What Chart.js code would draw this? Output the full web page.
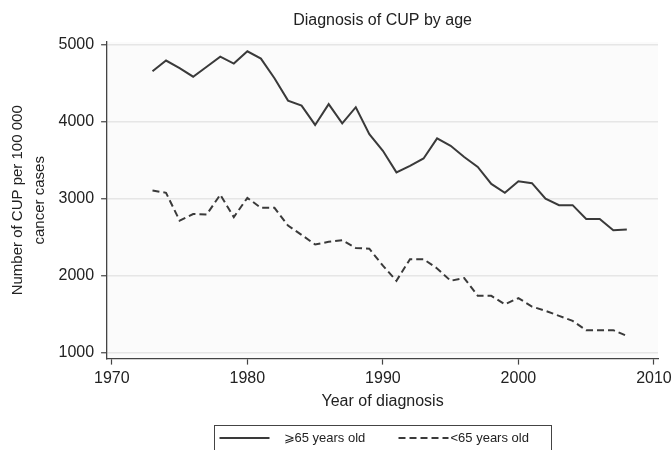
<!DOCTYPE html>
<html>
<head>
<meta charset="utf-8">
<script src="https://cdn.jsdelivr.net/npm/chart.js@4/dist/chart.umd.min.js"></script>
<style>
  html, body { margin: 0; padding: 0; background: #fff; }
  #wrap { width: 672px; height: 450px; position: relative; }
</style>
</head>
<body>
<div id="wrap"><canvas id="chartCup"></canvas></div>
<script>
// years of diagnosis
const years = [1973, 1974, 1975, 1976, 1977, 1978, 1979, 1980, 1981, 1982,
  1983, 1984, 1985, 1986, 1987, 1988, 1989, 1990, 1991, 1992,
  1993, 1994, 1995, 1996, 1997, 1998, 1999, 2000, 2001, 2002,
  2003, 2004, 2005, 2006, 2007, 2008];

// >=65 years old
const olderValues = [4650, 4790, 4690, 4580, 4710, 4840, 4750, 4910, 4815, 4560,
  4270, 4205, 3955, 4225, 3975, 4185, 3835, 3620, 3340, 3425,
  3520, 3780, 3685, 3540, 3410, 3190, 3075, 3225, 3200, 3000,
  2915, 2915, 2735, 2735, 2590, 2600];

// <65 years old
const youngerValues = [3105, 3075, 2715, 2800, 2795, 3050, 2760, 3010, 2880, 2880,
  2650, 2530, 2405, 2440, 2460, 2360, 2350, 2130, 1935, 2215,
  2215, 2095, 1935, 1970, 1740, 1740, 1630, 1710, 1600, 1545,
  1480, 1415, 1295, 1295, 1295, 1220];

const seriesLabels = ['\u2A7E65 years old', '<65 years old'];
const xTicks = [1970, 1980, 1990, 2000, 2010];
const yTicks = [1000, 2000, 3000, 4000, 5000];

const lineColor = '#3a3a3a';
const fontFamily = "'Liberation Sans', Arial, Helvetica, sans-serif";

const toPoints = vals => vals.map((v, i) => ({ x: years[i], y: v }));

// title centred over the plot area, like the original
const titlePlugin = {
  id: 'plotTitle',
  afterDraw(chart) {
    const { ctx, chartArea } = chart;
    ctx.save();
    ctx.font = '16px ' + fontFamily;
    ctx.fillStyle = '#222';
    ctx.textAlign = 'center';
    ctx.textBaseline = 'middle';
    ctx.fillText('Diagnosis of CUP by age', (chartArea.left + chartArea.right) / 2, 21);
    ctx.restore();
  }
};

// boxed legend at the bottom (cut by the image edge)
const legendBoxPlugin = {
  id: 'legendBox',
  afterDraw(chart) {
    const { ctx, chartArea } = chart;
    const sets = chart.data.datasets;
    const cx = (chartArea.left + chartArea.right) / 2;
    const boxW = 337;
    const left = Math.round(cx - boxW / 2) + 0.5;
    const top = 425.5;
    const yMid = 438;
    ctx.save();
    ctx.strokeStyle = '#444';
    ctx.lineWidth = 1;
    ctx.strokeRect(left, top, boxW, 40);

    ctx.font = '13px ' + fontFamily;
    ctx.textBaseline = 'middle';
    ctx.fillStyle = '#222';
    const starts = [left + 5, left + 184];
    const textGap = [64, 52];
    sets.forEach((ds, i) => {
      ctx.strokeStyle = ds.borderColor;
      ctx.lineWidth = ds.borderWidth;
      ctx.setLineDash(ds.borderDash || []);
      ctx.beginPath();
      ctx.moveTo(starts[i], yMid);
      ctx.lineTo(starts[i] + 50, yMid);
      ctx.stroke();
      ctx.fillText(ds.label, starts[i] + textGap[i], yMid);
    });
    ctx.restore();
  }
};

const plotBgPlugin = {
  id: 'plotBg',
  beforeDraw(chart) {
    const { ctx, chartArea } = chart;
    ctx.save();
    ctx.fillStyle = '#fbfbfb';
    ctx.fillRect(chartArea.left, chartArea.top, chartArea.right - chartArea.left, chartArea.bottom - chartArea.top);
    ctx.restore();
  }
};

const configCup = {
  type: 'line',
  data: {
    datasets: [
      {
        label: seriesLabels[0],
        data: toPoints(olderValues),
        borderColor: lineColor,
        borderWidth: 2,
        pointRadius: 0,
        tension: 0,
      },
      {
        label: seriesLabels[1],
        data: toPoints(youngerValues),
        borderColor: lineColor,
        borderWidth: 2,
        borderDash: [7, 4],
        pointRadius: 0,
        tension: 0,
      },
    ],
  },
  options: {
    responsive: false,
    animation: false,
    events: [],
    layout: {
      padding: { top: 42, left: 2, right: 14, bottom: 37 },
    },
    scales: {
      x: {
        type: 'linear',
        min: 1969.65,
        max: 2010.3,
        afterBuildTicks: axis => { axis.ticks = xTicks.map(v => ({ value: v })); },
        // let the last label run into the right margin, as in the original
        afterFit: axis => { axis.paddingRight = 0; },
        ticks: {
          color: '#222',
          padding: 4,
          maxRotation: 0,
          font: { family: fontFamily, size: 16 },
          callback: v => String(v),
        },
        grid: {
          drawOnChartArea: false,
          tickLength: 6,
          tickColor: '#444',
          tickWidth: 1.2,
        },
        border: { color: '#444', width: 1.3 },
        title: {
          display: true,
          text: 'Year of diagnosis',
          color: '#222',
          font: { family: fontFamily, size: 16 },
          padding: { top: 0, bottom: 2 },
        },
      },
      y: {
        min: 926,
        max: 5030,
        afterBuildTicks: axis => { axis.ticks = yTicks.map(v => ({ value: v })); },
        ticks: {
          color: '#222',
          padding: 7,
          font: { family: fontFamily, size: 16 },
          callback: v => String(v),
        },
        grid: {
          color: '#e6e6e6',
          lineWidth: 1.5,
          tickLength: 6,
          tickColor: '#444',
          tickWidth: 1.2,
        },
        border: { color: '#444', width: 1.3 },
        title: {
          display: true,
          text: ['Number of CUP per 100 000', 'cancer cases'],
          color: '#222',
          font: { family: fontFamily, size: 15, lineHeight: 1.45 },
          padding: { top: 5, bottom: 1 },
        },
      },
    },
    plugins: {
      legend: { display: false },
      tooltip: { enabled: false },
    },
  },
  plugins: [plotBgPlugin, titlePlugin, legendBoxPlugin],
};

const canvas = document.getElementById('chartCup');
canvas.width = 672;
canvas.height = 450;
var chartCup = new Chart(canvas, configCup);
</script>
</body>
</html>
